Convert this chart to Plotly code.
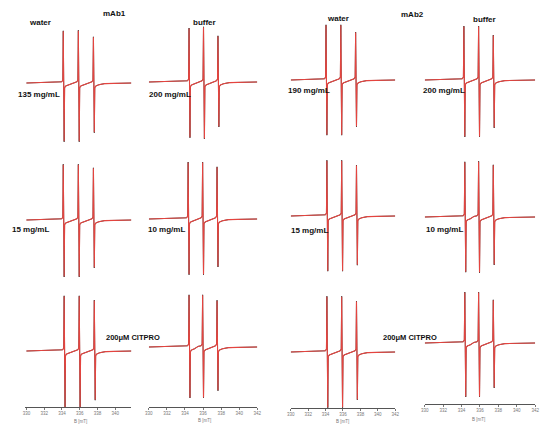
import plotly.graph_objects as go

W, H = 550, 437

# ---------------- data ----------------
# panels in row-major order:
# row1: mAb1 water 135, mAb1 buffer 200, mAb2 water 190, mAb2 buffer 200
# row2: 15, 10, 15, 10 mg/mL ; row3: 200 uM CITPRO reference spectra
FIELD_START = 330.0   # mT
FIELD_END = 342.0     # mT

LINE_CENTERS = [
    [334.2, 335.9, 337.6], [334.5, 336.1, 337.7], [334.1, 335.8, 337.5], [334.3, 335.9, 337.5],
    [334.2, 335.9, 337.6], [334.4, 336.0, 337.6], [334.2, 335.9, 337.6], [334.4, 335.9, 337.5],
    [334.3, 336.0, 337.7], [334.5, 336.0, 337.6], [334.2, 335.9, 337.6], [334.4, 335.9, 337.5],
]
PEAK_UP = [
    [0.87, 0.88, 0.77], [0.90, 0.92, 0.77], [0.92, 0.92, 0.80], [0.90, 0.90, 0.75],
    [0.93, 0.93, 0.87], [0.95, 0.95, 0.87], [0.93, 0.93, 0.85], [0.92, 0.93, 0.87],
    [0.92, 0.92, 0.85], [0.87, 0.87, 0.78], [0.93, 0.93, 0.85], [0.85, 0.85, 0.72],
]
PEAK_DOWN = [
    [-0.98, -0.98, -0.83], [-0.93, -0.95, -0.75], [-0.92, -0.92, -0.78], [-0.95, -0.95, -0.80],
    [-0.95, -0.95, -0.80], [-0.93, -0.93, -0.80], [-0.92, -0.92, -0.82], [-0.92, -0.93, -0.80],
    [-0.95, -0.95, -0.82], [-0.85, -0.85, -0.73], [-0.93, -0.93, -0.80], [-0.90, -0.90, -0.75],
]
# wings of each derivative line (offset from centre in mT, level)
PRE_OFFSETS = [-0.55, -0.22, -0.10]
PRE_LEVELS = [0.01, 0.02, 0.05]
PEAK_OFFSET = [-0.05, 0.05]
POST_OFFSETS = [0.10, 0.22, 0.55]
POST_LEVELS = [-0.08, -0.05, -0.03]
TAIL_OFFSET = [1.2]
TAIL_LEVEL = [-0.01]

CONC_LABELS = ["135 mg/mL", "200 mg/mL", "190 mg/mL", "200 mg/mL",
               "15 mg/mL", "10 mg/mL", "15 mg/mL", "10 mg/mL"]
SOLVENT_LABELS = ["water", "buffer", "water", "buffer"]
ANTIBODY_LABELS = ["mAb1", "mAb2"]
REF_LABEL = "200μM CITPRO"
AXIS_TITLE = "B [mT]"
TICKS_COL1 = [330, 332, 334, 336, 338, 340]
TICKS_OTHER = [330, 332, 334, 336, 338, 340, 342]

# ---------------- layout geometry (pixels) ----------------
COL_X = [(21, 129), (147, 257), (291, 397), (427, 539)]
COL_RANGE = [(329.8, 341.8), (330, 342), (330, 342), (330, 342)]
BASE_PX = [83, 82, 80, 80, 220, 219, 216, 217, 351, 347, 352, 343]
AXIS_PX = [407, 407, 408, 404]
S = 60.0  # px per intensity unit


def spectrum(i):
    xs, ys = [FIELD_START], [0.0]
    for c, up, dn in zip(LINE_CENTERS[i], PEAK_UP[i], PEAK_DOWN[i]):
        for o, l in zip(PRE_OFFSETS, PRE_LEVELS):
            xs.append(c + o); ys.append(l)
        xs.append(c + PEAK_OFFSET[0]); ys.append(up)
        xs.append(c + PEAK_OFFSET[1]); ys.append(dn)
        for o, l in zip(POST_OFFSETS, POST_LEVELS):
            xs.append(c + o); ys.append(l)
    last = LINE_CENTERS[i][-1]
    xs.append(last + TAIL_OFFSET[0]); ys.append(TAIL_LEVEL[0])
    xs.append(FIELD_END); ys.append(0.0)
    return xs, ys


fig = go.Figure()
layout = {}
for i in range(12):
    r, c = divmod(i, 4)
    n = i + 1
    xa = "x" if n == 1 else f"x{n}"
    ya = "y" if n == 1 else f"y{n}"
    xk = "xaxis" if n == 1 else f"xaxis{n}"
    yk = "yaxis" if n == 1 else f"yaxis{n}"
    base = BASE_PX[i]
    top = base - 66
    bottom = AXIS_PX[c] if r == 2 else base + 66
    yr = [-(bottom - base) / S, (base - top) / S]
    x0, x1 = COL_X[c]
    xs, ys = spectrum(i)
    fig.add_trace(go.Scatter(x=xs, y=ys, xaxis=xa, yaxis=ya, mode="lines",
                             line=dict(color="#333333", width=0.9), hoverinfo="skip",
                             showlegend=False))
    fig.add_trace(go.Scatter(x=xs, y=[v * 0.99 for v in ys], xaxis=xa, yaxis=ya, mode="lines",
                             line=dict(color="#e5443f", width=1.1), hoverinfo="skip",
                             showlegend=False))
    bottom_row = r == 2
    layout[xk] = dict(domain=[x0 / W, x1 / W], range=list(COL_RANGE[c]), anchor=ya,
                      showgrid=False, zeroline=False, showline=bottom_row,
                      linecolor="#555555", linewidth=1,
                      ticks="outside" if bottom_row else "", ticklen=2, tickcolor="#777777",
                      tickvals=(TICKS_COL1 if c == 0 else TICKS_OTHER) if bottom_row else [],
                      showticklabels=bottom_row,
                      tickfont=dict(size=4.5, color="#777777", family="Liberation Sans"))
    layout[yk] = dict(domain=[1 - bottom / H, 1 - top / H], range=yr, anchor=xa,
                      visible=False, showgrid=False, zeroline=False)

annotations = []


def txt(t, px, py, size=8, bold=True, color="#111111"):
    annotations.append(dict(text=f"<b>{t}</b>" if bold else t, x=px / W, y=1 - py / H,
                            xref="paper", yref="paper", showarrow=False,
                            xanchor="center", yanchor="middle",
                            font=dict(size=size, color=color, family="Liberation Sans")))


txt(ANTIBODY_LABELS[0], 112, 13)
txt(ANTIBODY_LABELS[1], 415, 14)
for t, (px, py) in zip(SOLVENT_LABELS, [(37, 23), (203, 23), (339, 19), (488, 20)]):
    txt(t, px, py)
for t, (px, py) in zip(CONC_LABELS, [(36, 95), (168, 95), (309, 90), (447, 90),
                                     (27, 229), (165, 229), (310, 230), (447, 229)]):
    txt(t, px, py)
txt(REF_LABEL, 131, 337, size=7.5)
txt(REF_LABEL, 412, 337, size=7.5)
for px, py in [(78, 421), (203, 420), (344, 421), (482, 419)]:
    txt(AXIS_TITLE, px, py, size=4.5, bold=False, color="#777777")

fig.update_layout(width=W, height=H, margin=dict(l=0, r=0, t=0, b=0),
                  paper_bgcolor="white", plot_bgcolor="white",
                  annotations=annotations, **layout)
fig.write_html("out.html", config={"displayModeBar": False, "staticPlot": True},
               post_script="document.body.style.margin='0';document.body.style.overflow='hidden';")
